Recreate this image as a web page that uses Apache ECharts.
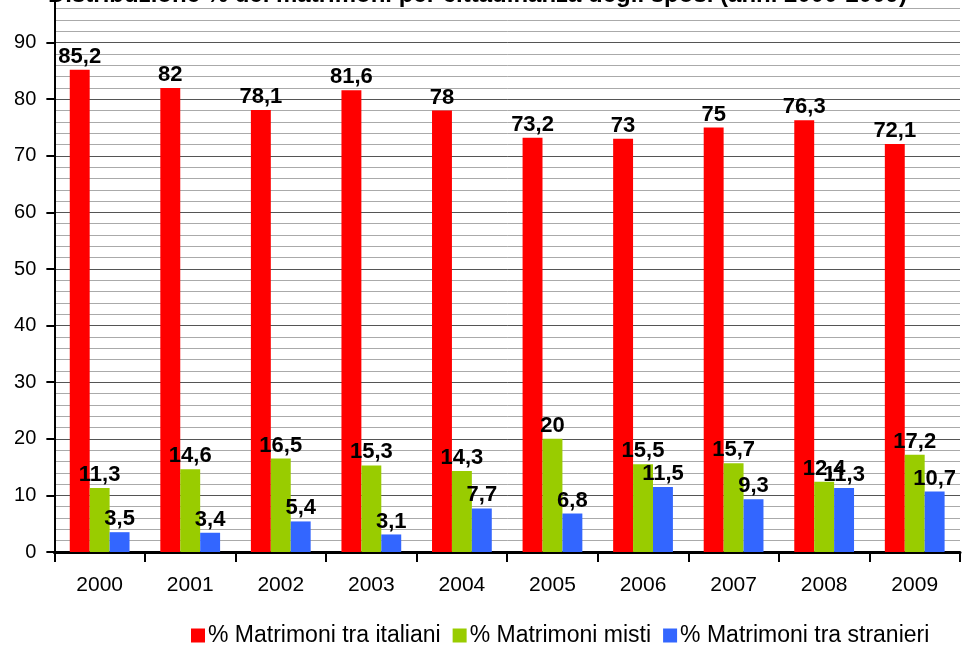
<!DOCTYPE html>
<html>
<head>
<meta charset="utf-8">
<script src="https://cdn.jsdelivr.net/npm/echarts@6/dist/echarts.min.js"></script>
<style>
html,body{margin:0;padding:0;background:#fff;overflow:hidden;width:962px;height:645px;position:relative;}
#chart{position:absolute;left:0;top:-24px;width:962px;height:669px;}
</style>
</head>
<body>
<div id="chart"></div>
<script>
const titleText = 'Distribuzione % dei matrimoni per cittadinanza degli sposi (anni 2000-2009)';
const years = ['2000','2001','2002','2003','2004','2005','2006','2007','2008','2009'];
const seriesNames = ['% Matrimoni tra italiani','% Matrimoni misti','% Matrimoni tra stranieri'];
const italiani = [85.2, 82, 78.1, 81.6, 78, 73.2, 73, 75, 76.3, 72.1];
const misti = [11.3, 14.6, 16.5, 15.3, 14.3, 20, 15.5, 15.7, 12.4, 17.2];
const stranieri = [3.5, 3.4, 5.4, 3.1, 7.7, 6.8, 11.5, 9.3, 11.3, 10.7];
const colors = ['#FF0000','#99CC00','#3366FF'];

const FONT = '"Liberation Sans", Arial, sans-serif';
const chart = echarts.init(document.getElementById('chart'));

function mkSeries(name, data, color){
  return {
    name: name,
    type: 'bar',
    data: data,
    barGap: '0%',
    barCategoryGap: '34%',
    itemStyle: {color: color},
    label: {
      show: true,
      position: 'top',
      distance: 2,
      color: '#000',
      fontFamily: FONT,
      fontWeight: 'bold',
      fontSize: 22,
      formatter: p => String(p.value).replace('.', ',')
    }
  };
}

chart.setOption({
  animation: false,
  backgroundColor: '#fff',
  title: {
    text: titleText,
    left: 48,
    top: 7,
    padding: 0,
    textStyle: {fontFamily: FONT, fontWeight: 'bold', fontSize: 24, color: '#000'}
  },
  legend: {
    data: seriesNames,
    left: 186,
    top: 643,
    itemWidth: 14,
    itemHeight: 14,
    itemGap: 12,
    icon: 'rect',
    textStyle: {fontFamily: FONT, fontSize: 23, color: '#000', padding: [0,0,0,-2]}
  },
  grid: {left: 54, right: 2, top: 0, bottom: 93},
  xAxis: {
    type: 'category',
    data: years,
    axisLine: {lineStyle: {color: '#000', width: 3}},
    axisTick: {show: true, length: 10, lineStyle: {color: '#000', width: 2}},
    axisLabel: {color: '#000', fontFamily: FONT, fontSize: 21, margin: 23},
    splitLine: {show: false}
  },
  yAxis: {
    type: 'value',
    min: 0,
    max: 100,
    interval: 10,
    axisLine: {show: true, lineStyle: {color: '#000', width: 2}},
    axisTick: {show: true, length: 8, lineStyle: {color: '#000', width: 2}},
    axisLabel: {color: '#000', fontFamily: FONT, fontSize: 20, margin: 18},
    splitLine: {show: true, lineStyle: {color: '#555', width: 1}},
    minorTick: {show: false, splitNumber: 5},
    minorSplitLine: {show: true, lineStyle: {color: '#aaaaaa', width: 1}}
  },
  series: [
    mkSeries(seriesNames[0], italiani, colors[0]),
    mkSeries(seriesNames[1], misti, colors[1]),
    mkSeries(seriesNames[2], stranieri, colors[2])
  ]
});
</script>
</body>
</html>
